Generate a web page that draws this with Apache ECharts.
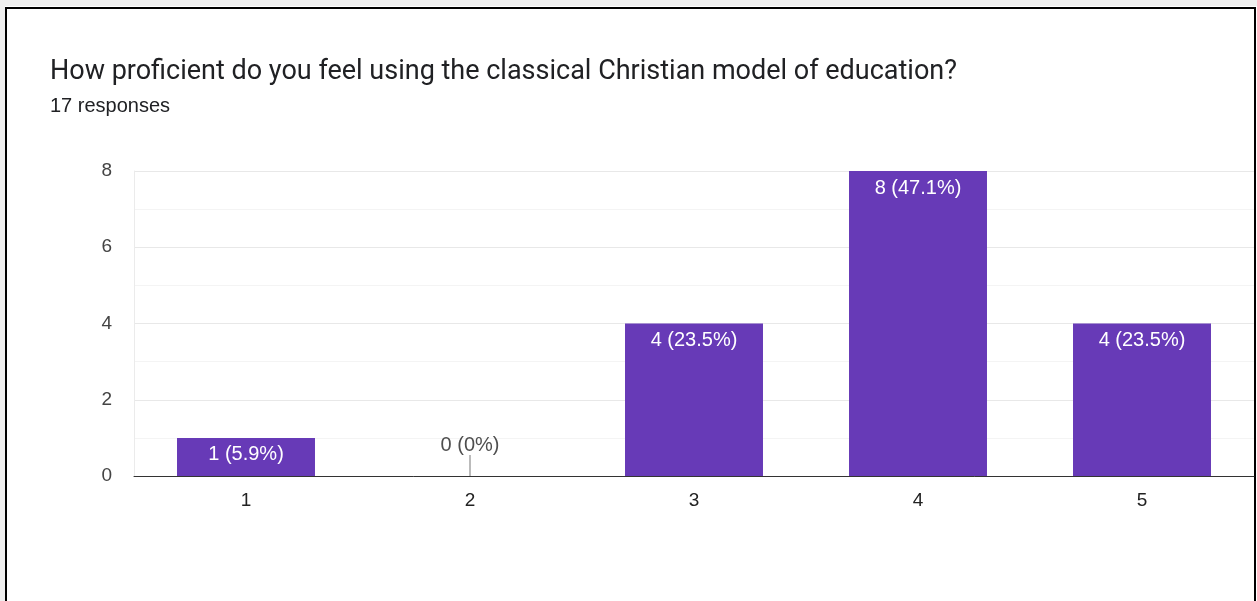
<!DOCTYPE html>
<html>
<head>
<meta charset="utf-8">
<script src="https://cdn.jsdelivr.net/npm/echarts@6/dist/echarts.min.js"></script>
<style>
html,body{margin:0;padding:0;background:#fff;}
#chart{width:1257px;height:601px;}
</style>
</head>
<body>
<div id="chart"></div>
<script>
var titleText = 'How proficient do you feel using the classical Christian model of education?';
var subtitleText = '17 responses';
var categories = ['1', '2', '3', '4', '5'];
var counts = [1, 0, 4, 8, 4];
var percents = ['5.9%', '0%', '23.5%', '47.1%', '23.5%'];
var yTicks = [0, 2, 4, 6, 8];

var TFONT = 'Roboto, Arial, sans-serif';
var FONT = '"Liberation Sans", Arial, sans-serif';
var chart = echarts.init(document.getElementById('chart'), null, {renderer: 'canvas'});

var barData = counts.map(function (v) { return v > 0 ? v : null; });
var zeroData = counts.map(function (v) { return v === 0 ? v : null; });
function labelText(p) { return counts[p.dataIndex] + ' (' + percents[p.dataIndex] + ')'; }

chart.setOption({
  backgroundColor: '#ffffff',
  animation: false,
  graphic: [
    {type: 'rect', left: 0, top: 0, shape: {width: 1257, height: 6}, style: {fill: '#efefef'}, silent: true},
    {type: 'rect', left: 0, top: 0, shape: {width: 5, height: 601}, style: {fill: '#efefef'}, silent: true},
    {type: 'rect', left: 5, top: 7, shape: {width: 1251, height: 2}, style: {fill: '#000'}, silent: true},
    {type: 'rect', left: 5, top: 7, shape: {width: 2, height: 594}, style: {fill: '#000'}, silent: true},
    {type: 'rect', left: 1254, top: 7, shape: {width: 2, height: 594}, style: {fill: '#000'}, silent: true}
  ],
  title: [
    {text: titleText, left: 45, top: 54, textStyle: {fontFamily: TFONT, fontSize: 27, fontWeight: 'normal', color: '#202124'}},
    {text: subtitleText, left: 45, top: 91, textStyle: {fontFamily: FONT, fontSize: 20, fontWeight: 'normal', color: '#202124'}}
  ],
  grid: {left: 134, right: 3, top: 171, bottom: 125, containLabel: false},
  xAxis: {
    type: 'category',
    data: categories,
    axisLine: {show: true, lineStyle: {color: '#333333', width: 1}},
    axisTick: {show: false},
    axisLabel: {fontFamily: FONT, fontSize: 19, color: '#222222', margin: 15},
    splitLine: {show: false}
  },
  yAxis: {
    type: 'value',
    min: yTicks[0],
    max: yTicks[yTicks.length - 1],
    interval: 2,
    axisLine: {show: true, lineStyle: {color: '#ebebeb'}},
    axisTick: {show: false},
    axisLabel: {fontFamily: FONT, fontSize: 19, color: '#444444', margin: 22},
    splitLine: {show: true, lineStyle: {color: '#e8e8e8', width: 1}},
    minorTick: {show: false, splitNumber: 2},
    minorSplitLine: {show: true, lineStyle: {color: '#f4f4f4', width: 1}}
  },
  series: [
    {
      type: 'bar',
      data: barData,
      barWidth: '61.6%',
      itemStyle: {color: '#673ab7'},
      label: {
        show: true,
        position: 'insideTop',
        distance: 7,
        fontFamily: FONT,
        fontSize: 20,
        color: '#ffffff',
        formatter: labelText
      }
    },
    {
      type: 'scatter',
      data: zeroData,
      symbol: 'rect',
      symbolSize: [1, 21],
      symbolOffset: [0, '-50%'],
      itemStyle: {color: '#555555'},
      label: {
        show: true,
        position: 'top',
        distance: 0,
        fontFamily: FONT,
        fontSize: 20,
        color: '#222222',
        formatter: labelText
      },
      silent: true
    }
  ]
});
</script>
</body>
</html>
